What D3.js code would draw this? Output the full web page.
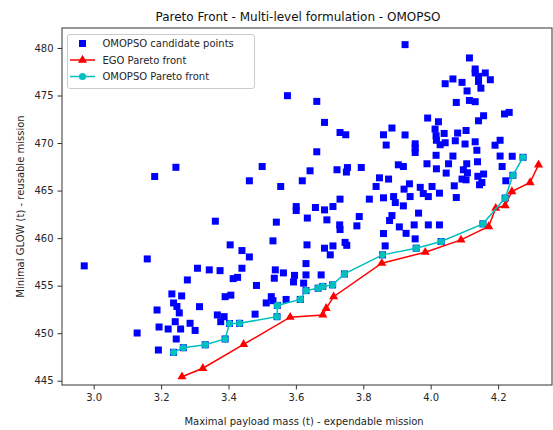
<!DOCTYPE html>
<html><head><meta charset="utf-8">
<script src="https://cdn.jsdelivr.net/npm/d3@7"></script>
<style>body{margin:0;background:#fff}svg{display:block;font-family:"DejaVu Sans",sans-serif}</style>
</head><body><svg id="c" width="553" height="430"></svg>
<script>
// OMOPSO candidate points
const candX = [2.972,3.129,3.159,3.181,3.244,3.188,3.194,3.192,3.221,3.232,3.237,3.247,3.254,3.242,3.258,3.245,3.261,3.286,3.301,3.314,3.278,3.308,3.343,3.375,3.414,3.427,3.440,3.462,3.440,3.405,3.390,3.407,3.367,3.387,3.377,3.479,3.483,3.527,3.512,3.532,3.539,3.536,3.563,3.596,3.593,3.571,3.630,3.633,3.630,3.623,3.675,3.685,3.702,3.532,3.361,3.542,3.601,3.601,3.658,3.685,3.634,3.692,3.462,3.500,3.555,3.619,3.642,3.575,3.662,3.685,3.662,
3.731,3.748,3.860,3.885,3.924,3.868,3.954,3.954,3.954,3.722,3.753,3.750,3.794,3.904,3.919,3.848,3.875,3.838,3.937,3.921,3.939,3.969,3.818,3.860,3.890,3.895,3.919,3.710,3.731,3.788,3.781,3.730,3.731,3.885,3.878,3.964,3.907,3.951,3.860,3.927,3.954,3.865,3.710,3.746,3.751,
3.978,3.993,4.004,4.026,4.070,4.076,3.993,4.026,3.989,4.017,4.053,4.046,4.097,4.107,4.109,4.139,4.157,4.140,4.105,4.093,4.145,4.152,4.223,4.212,4.206,4.242,4.016,4.066,4.191,4.206,4.137,4.132,4.102,4.073,4.080,4.105,4.040,4.028,4.043,4.017,4.013,4.016,3.991,4.023,4.076,4.115,4.132,4.108,4.149,4.157,4.142,4.219,4.233,4.043,4.066,4.093,4.115,4.132,4.132,4.162,4.142,4.142,4.177,3.924];
const candY = [457.08,450.02,457.81,466.48,467.45,452.44,450.65,448.23,450.44,454.13,453.18,452.81,452.13,451.21,450.44,449.39,453.92,451.04,450.29,452.79,455.60,456.83,456.66,456.58,455.74,455.87,456.83,458.02,458.69,459.29,453.84,454.00,451.92,451.74,451.21,452.00,455.02,453.84,453.18,453.42,456.66,455.78,456.34,456.08,455.39,453.55,457.32,459.29,456.13,455.26,456.13,458.94,458.24,459.71,461.78,461.68,463.32,462.90,463.22,462.97,462.11,461.92,466.03,467.53,465.43,466.03,467.08,474.98,474.38,472.17,469.08,
471.11,470.87,470.87,471.58,470.85,469.79,469.92,469.47,469.01,467.19,467.42,466.95,467.43,467.71,467.53,466.34,466.21,465.43,465.71,465.15,464.37,465.34,464.10,464.24,464.37,463.74,463.39,463.32,464.10,462.27,461.29,461.39,460.90,462.37,461.85,462.63,461.18,461.39,460.48,460.50,459.92,459.18,459.18,459.55,459.24,
464.69,464.37,465.43,464.73,465.50,464.27,461.39,461.39,467.82,467.29,467.82,466.84,467.19,467.82,466.87,468.03,466.74,466.50,466.13,466.21,465.61,465.85,466.03,467.53,468.63,468.61,468.71,468.63,469.77,470.29,469.24,470.13,469.90,470.24,471.05,471.32,471.01,469.82,470.03,470.29,471.47,470.77,472.63,472.24,474.27,474.48,474.35,475.48,475.77,472.87,472.34,473.06,473.22,476.24,476.74,476.38,478.95,477.79,477.37,477.37,477.01,476.48,476.66,480.35];

// EGO Pareto front
const egoX = [3.262,3.324,3.445,3.583,3.680,3.690,3.712,3.855,3.984,4.090,4.172,4.193,4.221,4.241,4.295,4.320];
const egoY = [445.42,446.31,448.83,451.68,451.92,452.62,453.84,457.36,458.52,459.81,461.22,463.15,463.43,464.90,465.85,467.71];

// OMOPSO Pareto front
const omoX = [3.237,3.266,3.331,3.390,3.403,3.433,3.544,3.545,3.613,3.630,3.666,3.680,3.709,3.744,3.857,3.957,4.031,4.155,4.221,4.244,4.274];
const omoY = [447.99,448.47,448.78,449.39,451.02,451.04,451.74,452.92,453.55,454.48,454.73,454.92,455.08,456.23,458.24,458.94,459.64,461.50,464.21,466.61,468.50];

const xTicks = [3.0,3.2,3.4,3.6,3.8,4.0,4.2];
const yTicks = [445,450,455,460,465,470,475,480];
const legendLabels = ["OMOPSO candidate points","EGO Pareto front","OMOPSO Pareto front"];
const titleText = "Pareto Front - Multi-level formulation - OMOPSO";
const xLabel = "Maximal payload mass (t) - expendable mission";
const yLabel = "Minimal GLOW (t) - reusable mission";

const L=62, R=552, T=28, B=385;
const svg = d3.select("#c");
const x = d3.scaleLinear().domain([2.906,4.36]).range([L,R]);
const y = d3.scaleLinear().domain([444.55,482.1]).range([B,T]);
const BLUE="#0000ff", RED="#ff0000", CYAN="#00bfbf";

const g = svg.append("g");
// candidate squares (incl. squares under front points)
const cand = candX.map((v,i)=>[v,candY[i]]).concat(omoX.map((v,i)=>[v,omoY[i]]));
const S=7;
g.selectAll("rect.c").data(cand).enter().append("rect")
  .attr("x",d=>x(d[0])-S/2).attr("y",d=>y(d[1])-S/2).attr("width",S).attr("height",S)
  .attr("fill",BLUE);

// EGO front
const line = d3.line().x(d=>x(d[0])).y(d=>y(d[1]));
const ego = egoX.map((v,i)=>[v,egoY[i]]);
g.append("path").attr("d",line(ego)).attr("fill","none").attr("stroke",RED).attr("stroke-width",1.5);
const tri = d3.symbol().type(d3.symbolTriangle).size(36);
g.selectAll("path.t").data(ego).enter().append("path").attr("d",tri)
  .attr("transform",d=>`translate(${x(d[0])},${y(d[1])})`).attr("fill",RED);

// OMOPSO front
const omo = omoX.map((v,i)=>[v,omoY[i]]);
g.append("path").attr("d",line(omo)).attr("fill","none").attr("stroke",CYAN).attr("stroke-width",1.5);
g.selectAll("circle.o").data(omo).enter().append("circle")
  .attr("cx",d=>x(d[0])).attr("cy",d=>y(d[1])).attr("r",3.6).attr("fill",CYAN);

// axes
const xa = svg.append("g").attr("transform",`translate(0,${B})`)
  .call(d3.axisBottom(x).tickValues(xTicks).tickFormat(d3.format(".1f")).tickSize(4.5).tickPadding(4));
const ya = svg.append("g").attr("transform",`translate(${L},0)`)
  .call(d3.axisLeft(y).tickValues(yTicks).tickSize(4.5).tickPadding(4));
[xa,ya].forEach(a=>{a.select(".domain").remove();
  a.selectAll("text").attr("font-size",10).attr("fill","#262626").attr("font-family","DejaVu Sans");
  a.selectAll("line").attr("stroke","#333");});
// frame
svg.append("rect").attr("x",L).attr("y",T).attr("width",R-L).attr("height",B-T)
  .attr("fill","none").attr("stroke","#333").attr("stroke-width",1);

svg.append("text").attr("x",(L+R)/2 - 9).attr("y",21).attr("text-anchor","middle")
  .attr("font-size",12).attr("fill","#111").text(titleText);
svg.append("text").attr("x",(L+R)/2 - 3).attr("y",425).attr("text-anchor","middle")
  .attr("font-size",10).attr("fill","#262626").text(xLabel);
svg.append("text").attr("transform",`translate(24,${(T+B)/2}) rotate(-90)`).attr("text-anchor","middle")
  .attr("font-size",10).attr("fill","#262626").text(yLabel);

// legend
const lg = svg.append("g");
lg.append("rect").attr("x",67.5).attr("y",34.5).attr("width",187).attr("height",54).attr("rx",2.5)
  .attr("fill","rgba(255,255,255,0.85)").attr("stroke","#cccccc");
const rows=[43.5,60,76.5];
lg.append("rect").attr("x",82.5-S/2).attr("y",rows[0]-S/2).attr("width",S).attr("height",S).attr("fill",BLUE);
lg.append("line").attr("x1",70).attr("x2",95).attr("y1",rows[1]).attr("y2",rows[1]).attr("stroke",RED).attr("stroke-width",1.5);
lg.append("path").attr("d",tri).attr("transform",`translate(82.5,${rows[1]})`).attr("fill",RED);
lg.append("line").attr("x1",70).attr("x2",95).attr("y1",rows[2]).attr("y2",rows[2]).attr("stroke",CYAN).attr("stroke-width",1.5);
lg.append("circle").attr("cx",82.5).attr("cy",rows[2]).attr("r",3.6).attr("fill",CYAN);
legendLabels.forEach((t,i)=>lg.append("text").attr("x",102.5).attr("y",rows[i]).attr("dy","0.35em")
  .attr("font-size",10).attr("fill","#262626").text(t));
</script></body></html>
